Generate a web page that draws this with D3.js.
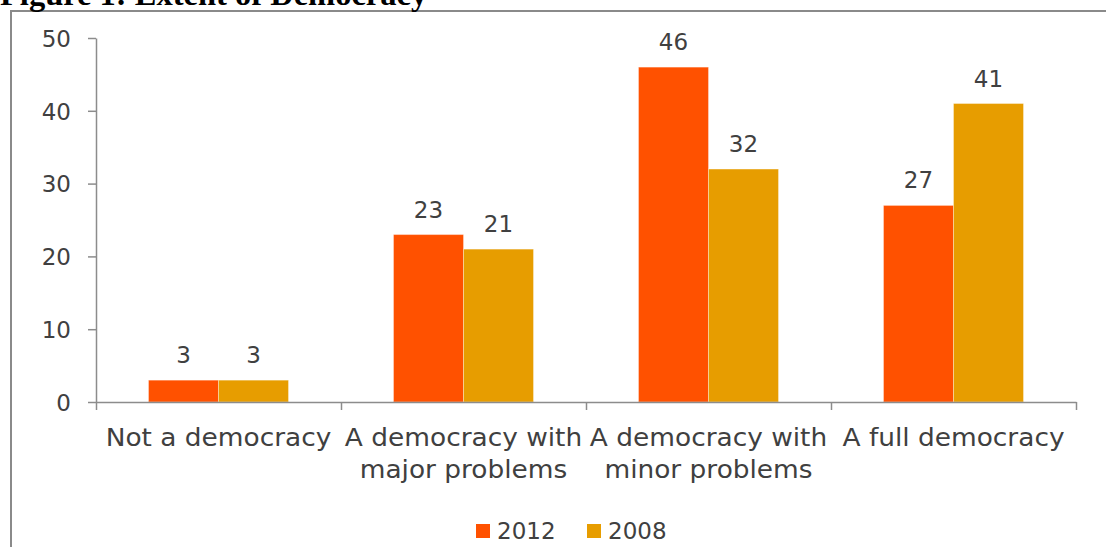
<!DOCTYPE html>
<html>
<head>
<meta charset="utf-8">
<script src="https://cdn.jsdelivr.net/npm/d3@7"></script>
<style>
  html, body { margin: 0; padding: 0; background: #fff; overflow: hidden; }
  svg { display: block; }
</style>
</head>
<body>
<svg id="chart" width="1106" height="547"></svg>
<script>
// ---- data ----
const categories = [
  ["Not a democracy"],
  ["A democracy with", "major problems"],
  ["A democracy with", "minor problems"],
  ["A full democracy"]
];
const seriesNames = ["2012", "2008"];
const values2012 = [3, 23, 46, 27];
const values2008 = [3, 21, 32, 41];
const yTicks = [0, 10, 20, 30, 40, 50];
const titleText = "Figure 1: Extent of Democracy";

// ---- layout ----
const svg = d3.select("#chart");
const W = 1106, H = 547;
const plot = { left: 96, right: 1076, top: 38, bottom: 402 };
const colors = { "2012": "#FF5100", "2008": "#E79D00" };
const textColor = "#404040";
const axisColor = "#8c8c8c";
const sans = "'DejaVu Sans', sans-serif";

const catKeys = categories.map(c => c.join(" "));
const series = [
  { name: seriesNames[0], values: values2012 },
  { name: seriesNames[1], values: values2008 }
];

const x0 = d3.scaleBand().domain(catKeys).range([plot.left, plot.right]).paddingInner(0).paddingOuter(0);
const x1 = d3.scaleBand().domain(seriesNames).range([0, x0.bandwidth()]).paddingInner(0).paddingOuter(0.75);
const y = d3.scaleLinear().domain([0, 50]).range([plot.bottom, plot.top]);

// border frame (extends past right/bottom edge)
svg.append("path")
  .attr("d", `M11,${H + 5} L11,11 L${W + 5},11`)
  .attr("fill", "none")
  .attr("stroke", "#8a8a8a")
  .attr("stroke-width", 2);

// title (partially cut off at top, as in the source)
svg.append("text")
  .attr("x", 0)
  .attr("y", 5)
  .attr("font-family", "'Liberation Serif', 'Times New Roman', serif")
  .attr("font-weight", "bold")
  .attr("font-size", 32.5)
  .attr("fill", "#000")
  .text(titleText);

// bars
const groups = svg.append("g").selectAll("g")
  .data(catKeys)
  .join("g")
  .attr("transform", d => `translate(${x0(d)},0)`);

groups.selectAll("rect")
  .data((d, i) => series.map(s => ({ key: s.name, value: s.values[i] })))
  .join("rect")
  .attr("x", d => x1(d.key))
  .attr("width", x1.bandwidth())
  .attr("y", d => y(d.value))
  .attr("height", d => y(0) - y(d.value))
  .attr("fill", d => colors[d.key])
  .attr("stroke", "rgba(255,255,255,0.35)")
  .attr("stroke-width", 1);

groups.selectAll("text.val")
  .data((d, i) => series.map(s => ({ key: s.name, value: s.values[i] })))
  .join("text")
  .attr("class", "val")
  .attr("x", d => x1(d.key) + x1.bandwidth() / 2)
  .attr("y", d => y(d.value) - 17)
  .attr("text-anchor", "middle")
  .attr("font-family", sans)
  .attr("font-size", 23)
  .attr("fill", textColor)
  .text(d => d.value);

// y axis
const yAxis = d3.axisLeft(y).tickValues(yTicks).tickSize(8).tickSizeOuter(0).tickPadding(17);
const yg = svg.append("g").attr("transform", `translate(${plot.left},0)`).call(yAxis);
yg.select(".domain").attr("stroke", axisColor).attr("stroke-width", 1.5);
yg.selectAll(".tick line").attr("stroke", axisColor).attr("stroke-width", 1.5);
yg.selectAll(".tick text")
  .attr("font-family", sans)
  .attr("font-size", 23)
  .attr("fill", textColor)
  .attr("dy", "0.36em");

// x axis: line with ticks at category boundaries
const boundaries = catKeys.map(k => x0(k)).concat([x0(catKeys[catKeys.length - 1]) + x0.bandwidth()]);
const xLinear = d3.scaleLinear().domain([plot.left, plot.right]).range([plot.left, plot.right]);
const xAxis = d3.axisBottom(xLinear).tickValues(boundaries).tickSize(8).tickSizeOuter(0).tickFormat("");
const xg = svg.append("g").attr("transform", `translate(0,${plot.bottom})`).call(xAxis);
xg.select(".domain").attr("stroke", axisColor).attr("stroke-width", 1.5);
xg.selectAll(".tick line").attr("stroke", axisColor).attr("stroke-width", 1.5);

// category labels
const stretch = 1.1;
const catG = svg.append("g");
categories.forEach((lines, i) => {
  const cx = x0(catKeys[i]) + x0.bandwidth() / 2;
  lines.forEach((ln, j) => {
    catG.append("text")
      .attr("transform", `translate(${cx},${446 + j * 32}) scale(${stretch},1)`)
      .attr("text-anchor", "middle")
      .attr("font-family", sans)
      .attr("font-size", 24)
      .attr("fill", textColor)
      .text(ln);
  });
});

// legend
const legendX = 476, legendY = 524, legendStep = 111;
const lg = svg.append("g").selectAll("g")
  .data(seriesNames)
  .join("g")
  .attr("transform", (d, i) => `translate(${legendX + i * legendStep},${legendY})`);
lg.append("rect").attr("width", 14).attr("height", 14).attr("fill", d => colors[d]);
lg.append("text")
  .attr("x", 21)
  .attr("y", 15)
  .attr("font-family", sans)
  .attr("font-size", 23)
  .attr("fill", textColor)
  .text(d => d);
</script>
</body>
</html>
